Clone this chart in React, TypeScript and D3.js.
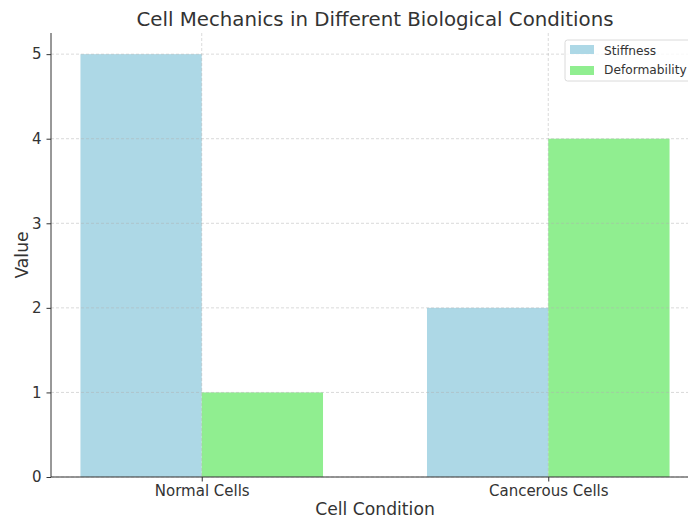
import React, { useEffect, useRef } from 'react';
import * as d3 from 'd3';

const categories = ['Normal Cells', 'Cancerous Cells'];
const seriesNames = ['Stiffness', 'Deformability'];
const stiffness = [5, 2];
const deformability = [1, 4];
const colors = ['#ADD8E6', '#90EE90'];
const yTicks = [0, 1, 2, 3, 4, 5];

const App = () => {
  const svgRef = useRef<SVGSVGElement>(null);

  useEffect(() => {
    const svg = d3.select(svgRef.current);
    svg.selectAll('*').remove();

    const W = 688;
    const H = 521;
    const margin = { top: 33, left: 51, bottom: 44 };
    const plotRight = 699;
    const bottom = H - margin.bottom;
    const font = 'DejaVu Sans, sans-serif';

    // x in data units, as in matplotlib: categories at 0 and 1, bar width 0.35
    const barW = 0.35;
    const x = d3.scaleLinear().domain([-0.435, 1.435]).range([margin.left, plotRight]);
    const y = d3.scaleLinear().domain([0, 5.25]).range([bottom, margin.top]);

    const series = [stiffness, deformability];

    const bars = svg.append('g');
    series.forEach((vals, s) => {
      bars.selectAll(`.bar${s}`)
        .data(vals)
        .enter()
        .append('rect')
        .attr('x', (d, i) => x(i + (s === 0 ? -barW : 0)))
        .attr('y', d => y(d))
        .attr('width', x(barW) - x(0))
        .attr('height', d => bottom - y(d))
        .style('fill', colors[s]);
    });

    // grid drawn over bars
    const grid = svg.append('g')
      .attr('stroke', '#b0b0b0')
      .attr('stroke-opacity', 0.6)
      .attr('stroke-dasharray', '3,2')
      .attr('stroke-width', 0.8);
    grid.selectAll('.hg')
      .data(yTicks)
      .enter()
      .append('line')
      .attr('x1', margin.left)
      .attr('x2', plotRight)
      .attr('y1', d => y(d))
      .attr('y2', d => y(d));
    grid.selectAll('.vg')
      .data(categories)
      .enter()
      .append('line')
      .attr('x1', (d, i) => x(i))
      .attr('x2', (d, i) => x(i))
      .attr('y1', margin.top)
      .attr('y2', bottom);

    // axes
    const yAxis = svg.append('g')
      .attr('transform', `translate(${margin.left},0)`)
      .call(d3.axisLeft(y).tickValues(yTicks).tickSize(4.5).tickPadding(5).tickFormat(d3.format('d')));
    yAxis.select('.domain').attr('stroke', '#333').attr('d', `M0,${margin.top}V${bottom}`);

    const xAxis = svg.append('g')
      .attr('transform', `translate(0,${bottom})`)
      .call(d3.axisBottom(x).tickValues([0, 1]).tickSize(4.5).tickPadding(4)
        .tickFormat((d, i) => categories[i]));
    xAxis.select('.domain').attr('stroke', '#333').attr('d', `M${margin.left},0H${plotRight}`);

    svg.selectAll('.tick line').attr('stroke', '#333');
    svg.selectAll('.tick text')
      .style('font-family', font)
      .style('font-size', '15px')
      .attr('fill', '#333');

    // labels
    svg.append('text')
      .attr('x', (margin.left + plotRight) / 2)
      .attr('y', 26)
      .attr('text-anchor', 'middle')
      .style('font-family', font)
      .style('font-size', '19.8px')
      .attr('fill', '#333')
      .text('Cell Mechanics in Different Biological Conditions');

    svg.append('text')
      .attr('x', (margin.left + plotRight) / 2)
      .attr('y', 515)
      .attr('text-anchor', 'middle')
      .style('font-family', font)
      .style('font-size', '17.2px')
      .attr('fill', '#333')
      .text('Cell Condition');

    svg.append('text')
      .attr('transform', `translate(28,${(margin.top + bottom) / 2}) rotate(-90)`)
      .attr('text-anchor', 'middle')
      .style('font-family', font)
      .style('font-size', '17.2px')
      .attr('fill', '#333')
      .text('Value');

    // legend
    const lg = svg.append('g').attr('transform', 'translate(565,40)');
    lg.append('rect')
      .attr('width', 140)
      .attr('height', 41)
      .attr('rx', 2.5)
      .attr('fill', 'white')
      .attr('fill-opacity', 0.8)
      .attr('stroke', '#d0d0d0')
      .attr('stroke-width', 0.8);
    seriesNames.forEach((name, i) => {
      lg.append('rect')
        .attr('x', 5)
        .attr('y', 5 + i * 21)
        .attr('width', 24)
        .attr('height', 9)
        .attr('fill', colors[i]);
      lg.append('text')
        .attr('x', 39)
        .attr('y', 14.5 + i * 19.5)
        .style('font-family', font)
        .style('font-size', '12.2px')
        .attr('fill', '#333')
        .text(name);
    });

    svg.attr('width', W).attr('height', H);
  }, []);

  return (
    <div style={{ position: 'absolute', left: 0, top: 0, width: 688, height: 521, overflow: 'hidden' }}>
      <svg ref={svgRef} width={688} height={521} style={{ display: 'block' }} />
    </div>
  );
};

export default App;
